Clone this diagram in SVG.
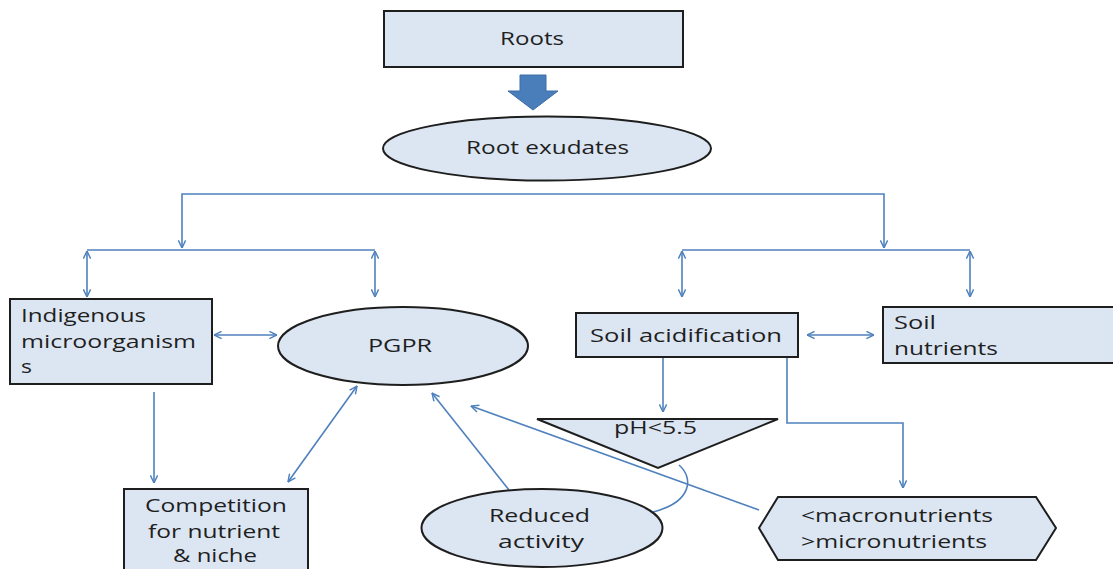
<svg xmlns="http://www.w3.org/2000/svg" width="1113" height="569" viewBox="0 0 1113 569">
<defs>
<style>
.n{fill:#dce6f2;stroke:#1e1e1e;stroke-width:2}
.c{fill:none;stroke:#4f81bd;stroke-width:1.6}
.t{font-family:"Open Sans","Liberation Sans",sans-serif;font-size:19px;fill:#1f1f1f}
</style>
<marker id="a" viewBox="0 0 10 10" refX="9.5" refY="5" markerWidth="9" markerHeight="9" markerUnits="userSpaceOnUse" orient="auto-start-reverse">
<path d="M1,1 L9.5,5 L1,9" fill="none" stroke="#4f81bd" stroke-width="1.6"/>
</marker>
</defs>
<rect width="1113" height="569" fill="#ffffff"/>
<g id="connectors">
<path class="c" d="M182,248 V194 H884 V248" marker-start="url(#a)" marker-end="url(#a)"/>
<path class="c" d="M87,250 H375"/>
<path class="c" d="M87,251 V297" marker-start="url(#a)" marker-end="url(#a)"/>
<path class="c" d="M375,251 V297" marker-start="url(#a)" marker-end="url(#a)"/>
<path class="c" d="M682,250 H970"/>
<path class="c" d="M682,251 V297" marker-start="url(#a)" marker-end="url(#a)"/>
<path class="c" d="M970,251 V297" marker-start="url(#a)" marker-end="url(#a)"/>
<path class="c" d="M214,335 H277" marker-start="url(#a)" marker-end="url(#a)"/>
<path class="c" d="M807,335 H874" marker-start="url(#a)" marker-end="url(#a)"/>
<path class="c" d="M154,392 V483" marker-end="url(#a)"/>
<path class="c" d="M288,482 L357,386" marker-start="url(#a)" marker-end="url(#a)"/>
<path class="c" d="M509,490 L432,393" marker-end="url(#a)"/>
<path class="c" d="M759,510 L471,406" marker-end="url(#a)"/>
<path class="c" d="M663,357 V412" marker-end="url(#a)"/>
<path class="c" d="M787,357 V423 H903 V488" marker-end="url(#a)"/>
<path class="c" d="M679,465 C694,478 692,502 653,512"/>
</g>
<g id="roots">
<rect class="n" x="384" y="11" width="299" height="56"/>
<text class="t" x="500" y="45" textLength="64" lengthAdjust="spacingAndGlyphs">Roots</text>
</g>
<g id="block-arrow">
<polygon points="520,75 546,75 546,91 558,91 533,110 508,91 520,91" fill="#4a7ebb" stroke="#3c6da8" stroke-width="1"/>
</g>
<g id="root-exudates">
<ellipse class="n" cx="547" cy="148.5" rx="164" ry="32"/>
<text class="t" x="466" y="154" textLength="163" lengthAdjust="spacingAndGlyphs">Root exudates</text>
</g>
<g id="indigenous">
<rect class="n" x="10" y="299" width="202" height="85"/>
<text class="t" x="21" y="322" textLength="125" lengthAdjust="spacingAndGlyphs">Indigenous</text>
<text class="t" x="21" y="348" textLength="175" lengthAdjust="spacingAndGlyphs">microorganism</text>
<text class="t" x="21" y="373" textLength="11" lengthAdjust="spacingAndGlyphs">s</text>
</g>
<g id="pgpr">
<ellipse class="n" cx="403" cy="346" rx="125" ry="39"/>
<text class="t" x="368" y="352" textLength="64" lengthAdjust="spacingAndGlyphs">PGPR</text>
</g>
<g id="competition">
<rect class="n" x="124" y="489" width="184" height="95"/>
<text class="t" x="145" y="512" textLength="142" lengthAdjust="spacingAndGlyphs">Competition</text>
<text class="t" x="148" y="538" textLength="132" lengthAdjust="spacingAndGlyphs">for nutrient</text>
<text class="t" x="173" y="562" textLength="84" lengthAdjust="spacingAndGlyphs">&amp; niche</text>
</g>
<g id="reduced-activity">
<ellipse class="n" cx="542" cy="528" rx="120.5" ry="39"/>
<text class="t" x="489" y="522" textLength="101" lengthAdjust="spacingAndGlyphs">Reduced</text>
<text class="t" x="498" y="548" textLength="86" lengthAdjust="spacingAndGlyphs">activity</text>
</g>
<g id="soil-acidification">
<rect class="n" x="576" y="313" width="222" height="44"/>
<text class="t" x="590" y="342" textLength="192" lengthAdjust="spacingAndGlyphs">Soil acidification</text>
</g>
<g id="soil-nutrients">
<rect class="n" x="883" y="307" width="240" height="56"/>
<text class="t" x="894" y="329" textLength="42" lengthAdjust="spacingAndGlyphs">Soil</text>
<text class="t" x="894" y="355" textLength="104" lengthAdjust="spacingAndGlyphs">nutrients</text>
</g>
<g id="ph">
<polygon class="n" points="537,419 778,419 658,468"/>
<text class="t" x="614" y="434" textLength="83" lengthAdjust="spacingAndGlyphs">pH&lt;5.5</text>
</g>
<g id="nutrients-hex">
<polygon class="n" points="759,528 778,497 1036,497 1056,528 1036,560 778,560"/>
<text class="t" x="801" y="522" textLength="192" lengthAdjust="spacingAndGlyphs">&lt;macronutrients</text>
<text class="t" x="801" y="548" textLength="186" lengthAdjust="spacingAndGlyphs">&gt;micronutrients</text>
</g>
</svg>
